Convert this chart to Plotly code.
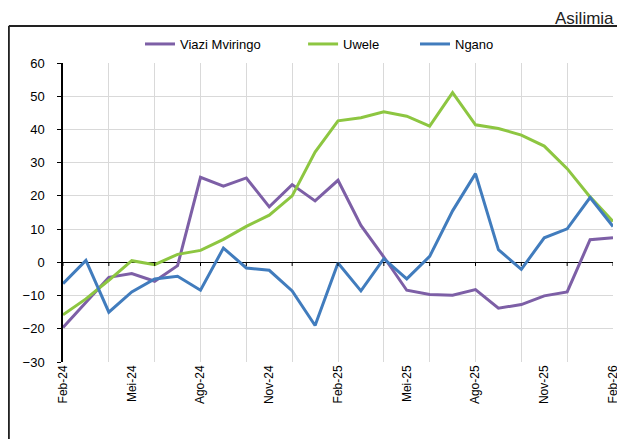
import plotly.graph_objects as go

months = ["Feb-24","Mar-24","Apr-24","Mei-24","Jun-24","Jul-24","Ago-24","Sep-24","Okt-24","Nov-24","Des-24","Jan-25",
          "Feb-25","Mar-25","Apr-25","Mei-25","Jun-25","Jul-25","Ago-25","Sep-25","Okt-25","Nov-25","Des-25","Jan-26","Feb-26"]
viazi = [-19.6, -12.0, -4.5, -3.4, -5.7, -1.0, 25.6, 22.9, 25.4, 16.7, 23.4, 18.5,
         24.7, 11.1, 1.6, -8.4, -9.7, -9.9, -8.2, -13.8, -12.7, -10.1, -8.9, 6.8, 7.4]
uwele = [-15.8, -11.0, -5.4, 0.5, -0.7, 2.4, 3.6, 6.9, 10.8, 14.2, 20.0, 33.2,
         42.6, 43.5, 45.3, 44.0, 41.0, 51.1, 41.4, 40.3, 38.3, 35.0, 28.2, 19.7, 12.3]
ngano = [-6.4, 0.6, -15.0, -8.9, -5.0, -4.2, -8.4, 4.3, -1.7, -2.4, -8.6, -19.0,
         -0.2, -8.6, 1.1, -5.0, 1.8, 15.5, 26.7, 3.8, -2.1, 7.4, 10.1, 19.5, 10.8]

series = [("Viazi Mviringo", viazi, "#7d5fa6", "legend", 0.140),
          ("Uwele", uwele, "#8dc641", "legend2", 0.4365),
          ("Ngano", ngano, "#417cbd", "legend3", 0.640)]

font = "Liberation Sans, Arial, sans-serif"
xs = list(range(len(months)))
fig = go.Figure()
legends = {}
for name, vals, col, leg, lx in series:
    fig.add_trace(go.Scatter(x=xs, y=vals, mode="lines", name=name, legend=leg,
                             line=dict(color=col, width=3)))
    legends[leg] = dict(orientation="h", x=lx, xanchor="left", y=1.0635, yanchor="middle",
                        font=dict(size=13, family=font), bgcolor="rgba(0,0,0,0)",
                        borderwidth=0)

label_idx = list(range(0, len(months), 3))

shapes = []
# x-axis tick marks along the zero line
for i in range(0, len(months), 2):
    shapes.append(dict(type="line", xref="x", yref="y", x0=i, x1=i, y0=0, y1=-1.1,
                       line=dict(color="black", width=1)))
# outer frame (left and top edges)
shapes.append(dict(type="line", xref="paper", yref="paper", x0=-0.0985, x1=1.015,
                   y0=1.124, y1=1.124, line=dict(color="#222222", width=2)))
shapes.append(dict(type="line", xref="paper", yref="paper", x0=-0.0985, x1=-0.0985,
                   y0=1.124, y1=-0.3, line=dict(color="#222222", width=2)))

fig.update_layout(
    width=617, height=431,
    margin=dict(l=55, r=12, t=55, b=77, autoexpand=False),
    paper_bgcolor="white", plot_bgcolor="white",
    font=dict(family=font, size=12, color="black"),
    showlegend=True,
    shapes=shapes,
    annotations=[dict(text="Asilimia", xref="paper", yref="paper", x=1.003, y=1.115,
                      xanchor="right", yanchor="bottom", showarrow=False, borderpad=0,
                      font=dict(size=17, family=font, color="#222222"))],
    **legends,
)
fig.update_xaxes(range=[0, len(months) - 1], tickmode="array", tickvals=label_idx,
                 ticktext=[months[i] for i in label_idx], tickangle=-90, ticks="",
                 showgrid=False, zeroline=False, showline=False, automargin=False,
                 tickfont=dict(size=12),
                 minor=dict(tickmode="linear", tick0=0, dtick=2, showgrid=True,
                            gridcolor="#d9d9d9", gridwidth=1, ticks=""))
fig.update_yaxes(range=[-30, 60], dtick=10, tick0=-30, showgrid=True, gridcolor="#d9d9d9",
                 zeroline=True, zerolinecolor="black", zerolinewidth=1, automargin=False,
                 showline=True, linecolor="black", linewidth=1.5,
                 ticks="outside", ticklen=4, tickcolor="black", ticklabelstandoff=10,
                 tickfont=dict(size=13))

fig.write_html("out.html")
